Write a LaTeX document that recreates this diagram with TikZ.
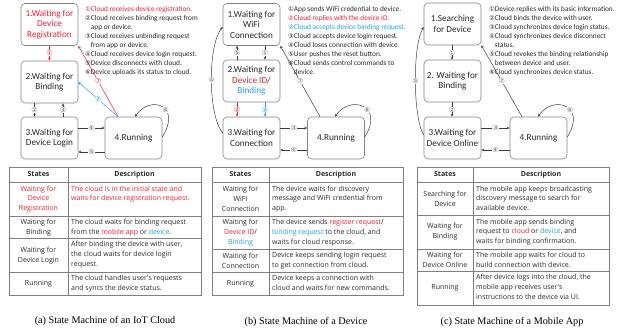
\documentclass[tikz,border=0pt]{standalone}
\usepackage{fontspec}
\setmainfont{Liberation Serif}
\newfontfamily\boxfont{Carlito}
\newfontfamily\tabfont{Open Sans}
\newfontfamily\numfont{DejaVu Sans}
\usetikzlibrary{arrows.meta}
\definecolor{myred}{RGB}{238,32,52}
\definecolor{myblue}{RGB}{30,160,230}
\definecolor{boxgray}{RGB}{130,130,130}
\definecolor{arrgray}{RGB}{60,60,60}
\definecolor{txtgray}{RGB}{40,40,40}
\newcommand{\cn}[1]{{\numfont\fontsize{6.4}{9}\selectfont #1}}
\newcommand{\ind}{\hphantom{\cn{①}}}
\tikzset{
  stbox/.style={draw=boxgray, line width=0.6pt, rounded corners=4pt, minimum width=57pt, minimum height=42pt, align=center, font=\boxfont\fontsize{9.2}{10.5}\selectfont, inner sep=1pt, text=txtgray},
  conn/.style={draw=arrgray, line width=0.5pt, -{Stealth[length=3pt,width=2.6pt]}},
  lab/.style={font=\numfont\fontsize{7}{7}\selectfont, fill=white, inner sep=0.2pt, text=arrgray!75},
  listtxt/.style={anchor=north west, align=left, inner sep=0, font=\boxfont\fontsize{7.3}{9}\selectfont, text=txtgray},
  tcell/.style={font=\tabfont\fontsize{7}{9.8}\selectfont, inner sep=0, text=txtgray},
  tleft/.style={tcell, align=center},
  tright/.style={tcell, anchor=north west, align=left},
  thead/.style={tcell, font=\tabfont\bfseries\fontsize{7}{9.8}\selectfont},
  tline/.style={draw=gray, line width=0.5pt},
  touter/.style={draw=gray, line width=0.8pt},
  captxt/.style={font=\fontsize{10.2}{12}\selectfont, inner sep=0}
}
\begin{document}
\begin{tikzpicture}[x=1pt,y=-1pt]
\useasboundingbox (0,0) rectangle (621,331);

% ================= (a) =================
\node[stbox] (a1) at (49.5,24.5) {\textcolor{myred}{1.Waiting for}\\\textcolor{myred}{Device}\\\textcolor{myred}{Registration}};
\node[stbox] (a2) at (49.5,82) {2.Waiting for\\Binding};
\node[stbox] (a3) at (49.5,138) {3.Waiting for\\Device Login};
\node[stbox] (a4) at (133.5,138) {4.Running};

\draw[conn, draw=myred] (a1.south) -- (a2.north) node[lab, text=myred, pos=0.5]{①};
\draw[conn] ([xshift=-15pt]a2.south) -- ([xshift=-15pt]a3.north) node[lab, pos=0.5]{②};
\draw[conn] ([xshift=13.5pt]a3.north) -- ([xshift=13.5pt]a2.south) node[lab, pos=0.5]{③};
\draw[conn] ([yshift=10pt]a3.east) -- ([yshift=10pt]a4.west) node[lab, pos=0.5]{④};
\draw[conn] ([yshift=-14pt]a4.west) -- ([yshift=-14pt]a3.east) node[lab, pos=0.5]{⑤};
\draw[conn] ([yshift=1pt]a4.east) .. controls +(20,-32) and +(15,-22) .. ([xshift=1.5pt]a4.north) node[lab, pos=0.4]{⑥};
\draw[conn, draw=myred] ([xshift=-15.5pt]a4.north) -- (a1.south east) node[lab, text=myred, pos=0.5]{⑦};
\draw[conn, draw=myblue] ([xshift=-15.5pt]a4.north) -- (a2.east) node[lab, text=myblue, pos=0.5]{②};

\node[listtxt] (alist) at (85,6) {\textcolor{myred}{\cn{①}Cloud receives device registration.}\\
\cn{②}Cloud receives binding request from\\
\ind app or device.\\
\cn{③}Cloud receives unbinding request\\
\ind from app or device.\\
\cn{④}Cloud receives device login request.\\
\cn{⑤}Device disconnects with cloud.\\
\cn{⑥}Device uploads its status to cloud.};

% table (a)
\draw[tline] (9,182) -- (201,182);
\draw[tline] (9,216) -- (201,216);
\draw[tline] (9,238) -- (201,238);
\draw[tline] (9,272) -- (201,272);
\draw[tline] (68,167) -- (68,295);
\draw[touter] (9,167) rectangle (201,295);
\node[thead] at (38.5,174.5) {States};
\node[thead] at (134.5,174.5) {Description};
\node[tleft, text=myred] at (38.5,199) {Waiting for\\Device\\Registration};
\node[tright, text=myred] at (71,185.5) {The cloud is in the initial state and\\waits for device registration request.};
\node[tleft] at (38.5,227.5) {Waiting for\\Binding};
\node[tright] at (71,219) {The cloud waits for binding request\\from the \textcolor{myred}{mobile app} or \textcolor{myblue}{device}.};
\node[tleft] at (38.5,255.5) {Waiting for\\Device Login};
\node[tright] at (71,241) {After binding the device with user,\\the cloud waits for device login\\request.};
\node[tleft] at (38.5,283.5) {Running};
\node[tright] at (71,275) {The cloud handles user's requests\\and syncs the device status.};
\node[captxt] at (105,321) {(a) State Machine of an IoT Cloud};

% ================= (b) =================
\node[stbox] (b1) at (251.5,24.5) {1.Waiting for\\WiFi\\Connection};
\node[stbox] (b2) at (251.5,81) {2.Waiting for\\\textcolor{myred}{Device ID}/\\\textcolor{myblue}{Binding}};
\node[stbox] (b3) at (251.5,138) {3.Waiting for\\Connection};
\node[stbox] (b4) at (336,138) {4.Running};

\draw[conn] ([xshift=-14.5pt]b2.north) -- ([xshift=-14.5pt]b1.south) node[lab, pos=0.5]{⑤};
\draw[conn] ([xshift=13.5pt]b1.south) -- ([xshift=13.5pt]b2.north) node[lab, pos=0.5]{①};
\draw[conn, draw=myred] ([xshift=-14.5pt]b2.south) -- ([xshift=-14.5pt]b3.north) node[lab, text=myred, pos=0.5]{②};
\draw[conn, draw=myblue] ([xshift=13.5pt]b2.south) -- ([xshift=13.5pt]b3.north) node[lab, text=myblue, pos=0.5]{②};
\draw[conn] ([yshift=10pt]b3.east) -- ([yshift=10pt]b4.west) node[lab, pos=0.5]{③};
\draw[conn] ([yshift=-12pt]b4.west) -- ([yshift=-12pt]b3.east) node[lab, pos=0.5]{④};
\draw[conn] ([yshift=5pt]b3.west) .. controls +(-15,-18) and +(-15,18) .. ([yshift=-2.5pt]b1.west) node[lab, pos=0.5]{⑤};
\draw[conn] ([xshift=-16pt]b4.north) -- (b1.south east) node[lab, pos=0.5]{⑦};
\draw[conn] ([yshift=1pt]b4.east) .. controls +(20,-32) and +(15,-22) .. ([xshift=-1pt]b4.north) node[lab, pos=0.4]{⑥};

\node[listtxt] (blist) at (288,6.7) {\cn{①}App sends WiFi credential to device.\\
\textcolor{myred}{\cn{②}Cloud replies with the device ID.}\\
\textcolor{myblue}{\cn{②}Cloud accepts device binding request.}\\
\cn{③}Cloud accepts device login request.\\
\cn{④}Cloud loses connection with device.\\
\cn{⑤}User pushes the reset button.\\
\cn{⑥}Cloud sends control commands to\\
\ind device.};

% table (b)
\draw[tline] (212,182) -- (403,182);
\draw[tline] (212,216) -- (403,216);
\draw[tline] (212,249) -- (403,249);
\draw[tline] (212,272) -- (403,272);
\draw[tline] (269,167) -- (269,295);
\draw[touter] (212,167) rectangle (403,295);
\node[thead] at (240.5,174.5) {States};
\node[thead] at (336,174.5) {Description};
\node[tleft] at (240.5,199) {Waiting for\\WiFi\\Connection};
\node[tright] at (272,185.5) {The device waits for discovery\\message and WiFi credential from\\app.};
\node[tleft] at (240.5,232.5) {Waiting for\\\textcolor{myred}{Device ID}/\\\textcolor{myblue}{Binding}};
\node[tright] at (272,219) {The device sends \textcolor{myred}{register request}/\\\textcolor{myblue}{binding request} to the cloud, and\\waits for cloud response.};
\node[tleft] at (240.5,260.5) {Waiting for\\Connection};
\node[tright] at (272,252) {Device keeps sending login request\\to get connection from cloud.};
\node[tleft] at (240.5,283.5) {Running};
\node[tright] at (272,275) {Device keeps a connection with\\cloud and waits for new commands.};
\node[captxt] at (306,322) {(b) State Machine of a Device};

% ================= (c) =================
\node[stbox] (c1) at (452.5,24) {1.Searching\\for Device};
\node[stbox] (c2) at (452.5,81) {2. Waiting for\\Binding};
\node[stbox] (c3) at (452.5,138) {3.Waiting for\\Device Online};
\node[stbox] (c4) at (538.5,138) {4.Running};

\draw[conn] ([xshift=-0.5pt]c1.south) -- ([xshift=-0.5pt]c2.north) node[lab, pos=0.5]{①};
\draw[conn] ([xshift=-0.5pt]c2.south) -- ([xshift=-0.5pt]c3.north) node[lab, pos=0.5]{②};
\draw[conn] ([yshift=10pt]c3.east) -- ([yshift=10pt]c4.west) node[lab, pos=0.5]{③};
\draw[conn] ([yshift=-12pt]c4.west) -- ([yshift=-12pt]c3.east) node[lab, pos=0.5]{④};
\draw[conn] ([yshift=3pt]c3.west) .. controls +(-11,-18) and +(-11,18) .. ([yshift=-3pt]c1.west) node[lab, pos=0.5]{⑤};
\draw[conn] ([xshift=-16.5pt]c4.north) -- (c1.south east) node[lab, pos=0.5]{⑦};
\draw[conn] ([yshift=1pt]c4.east) .. controls +(20,-32) and +(15,-22) .. ([xshift=-0.5pt]c4.north) node[lab, pos=0.4]{⑥};

\node[listtxt] (clist) at (489,6) {\cn{①}Device replies with its basic information.\\
\cn{②}Cloud binds the device with user.\\
\cn{③}Cloud synchronizes device login status.\\
\cn{④}Cloud synchronizes device disconnect\\
\ind status.\\
\cn{⑤}Cloud revokes the binding relationship\\
\ind between device and user.\\
\cn{⑥}Cloud synchronizes device status.};

% table (c)
\draw[tline] (417,182) -- (609,182);
\draw[tline] (417,215) -- (609,215);
\draw[tline] (417,249) -- (609,249);
\draw[tline] (417,271) -- (609,271);
\draw[tline] (473,167) -- (473,305);
\draw[touter] (417,167) rectangle (609,305);
\node[thead] at (445,174.5) {States};
\node[thead] at (541,174.5) {Description};
\node[tleft] at (445,198.5) {Searching for\\Device};
\node[tright] at (476,185.5) {The mobile app keeps broadcasting\\discovery message to search for\\available device.};
\node[tleft] at (445,232) {Waiting for\\Binding};
\node[tright] at (476,218.5) {The mobile app sends binding\\request to \textcolor{myred}{cloud} or \textcolor{myblue}{device}, and\\waits for binding confirmation.};
\node[tleft] at (445,260) {Waiting for\\Device Online};
\node[tright] at (476,252) {The mobile app waits for cloud to\\build connection with device.};
\node[tleft] at (445,288) {Running};
\node[tright] at (476,274) {After device logs into the cloud, the\\mobile app receives user's\\instructions to the device via UI.};
\node[captxt] at (512,322) {(c) State Machine of a Mobile App};
\end{tikzpicture}
\end{document}
